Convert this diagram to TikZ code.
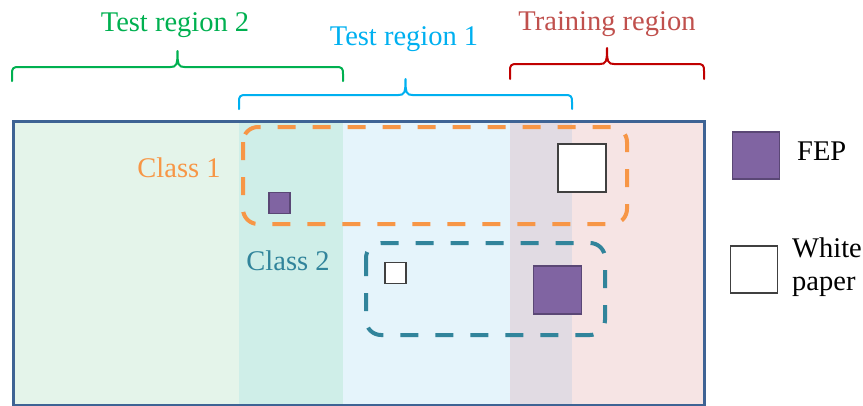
\documentclass[tikz,border=0pt]{standalone}
\usepackage{fontspec}
\setmainfont{Liberation Serif}
\definecolor{cgreen}{HTML}{00B050}
\definecolor{cblue}{HTML}{00B0F0}
\definecolor{cred}{HTML}{C00000}
\definecolor{credtxt}{HTML}{C0504D}
\definecolor{corange}{HTML}{F79646}
\definecolor{cteal}{HTML}{31849B}
\definecolor{cpurple}{HTML}{8064A2}
\definecolor{cpurpled}{HTML}{5A4775}
\definecolor{cborder}{HTML}{3E6394}
\definecolor{fA}{HTML}{E4F4EA}
\definecolor{fB}{HTML}{CFEEE8}
\definecolor{fC}{HTML}{E5F4FB}
\definecolor{fD}{HTML}{E1DBE3}
\definecolor{fE}{HTML}{F6E4E4}
\tikzset{
  lbl/.style={font=\fontsize{28.5}{33}\selectfont, inner sep=0pt},
  bracepath/.style={line width=2pt, line cap=round, line join=round},
  classbox/.style={line width=4pt, dash pattern=on 18pt off 17pt, rounded corners=15pt},
  fepsq/.style={draw=cpurpled, fill=cpurple, line width=1.2pt, inner sep=0pt, minimum size=#1},
  papersq/.style={draw=black!75, fill=white, line width=1.2pt, inner sep=0pt, minimum size=#1}
}
\newcommand{\mybrace}[5]{% x1, x2, ybottom, yline, color
  \pgfmathsetmacro{\xm}{(#1+#2)/2}
  \draw[bracepath,#5] (#1,#3) -- (#1,#4+7) .. controls (#1,#4+1) and (#1+1,#4) .. (#1+7,#4)
    -- (\xm-7,#4) .. controls (\xm-1,#4) and (\xm,#4-2) .. (\xm,#4-16)
    .. controls (\xm,#4-2) and (\xm+1,#4) .. (\xm+7,#4)
    -- (#2-7,#4) .. controls (#2-1,#4) and (#2,#4+1) .. (#2,#4+7) -- (#2,#3);
}
\begin{document}
\begin{tikzpicture}[x=1pt,y=-1pt]
\useasboundingbox (0,0) rectangle (863,405);
% background columns
\fill[fA] (12,120) rectangle (239,404);
\fill[fB] (239,120) rectangle (343,404);
\fill[fC] (343,120) rectangle (510,404);
\fill[fD] (510,120) rectangle (572,404);
\fill[fE] (572,120) rectangle (703,404);
% class boxes
\draw[classbox, corange] (243,127) rectangle (627,224);
\draw[classbox, cteal] (366,243) rectangle (605,335);
% squares
\node[fepsq=21pt] (fep1) at (279.5,203) {};
\node[papersq=21pt] (wp1) at (395.5,273) {};
\node[papersq=48pt] (wp2) at (582,168) {};
\node[fepsq=48pt] (fep2) at (557.5,290) {};
% main frame
\node[draw=cborder, line width=2.6pt, inner sep=0pt, minimum width=691pt, minimum height=284pt, anchor=north west] (frame) at (12,120) {};
% class labels
\node[lbl, text=corange, anchor=base] (c1) at (179,177) {Class 1};
\node[lbl, text=cteal, anchor=base] (c2) at (288,270) {Class 2};
% braces
\mybrace{12}{343}{81}{67}{cgreen}
\mybrace{239}{572}{109}{95}{cblue}
\mybrace{510}{704}{79}{64}{cred}
\node[lbl, text=cgreen, anchor=base] (t2) at (175,31) {Test region 2};
\node[lbl, text=cblue, anchor=base] (t1) at (404,45) {Test region 1};
\node[lbl, text=credtxt, anchor=base] (tr) at (607,30) {Training region};
% legend
\node[fepsq=47pt] (legfep) at (756,155.5) {};
\node[papersq=47pt] (legwp) at (754,269.5) {};
\node[lbl, anchor=base west] (legfeptxt) at (797,160) {FEP};
\node[lbl, anchor=west, align=left] (legwptxt) at (792,267) {White\\paper};
\end{tikzpicture}
\end{document}
